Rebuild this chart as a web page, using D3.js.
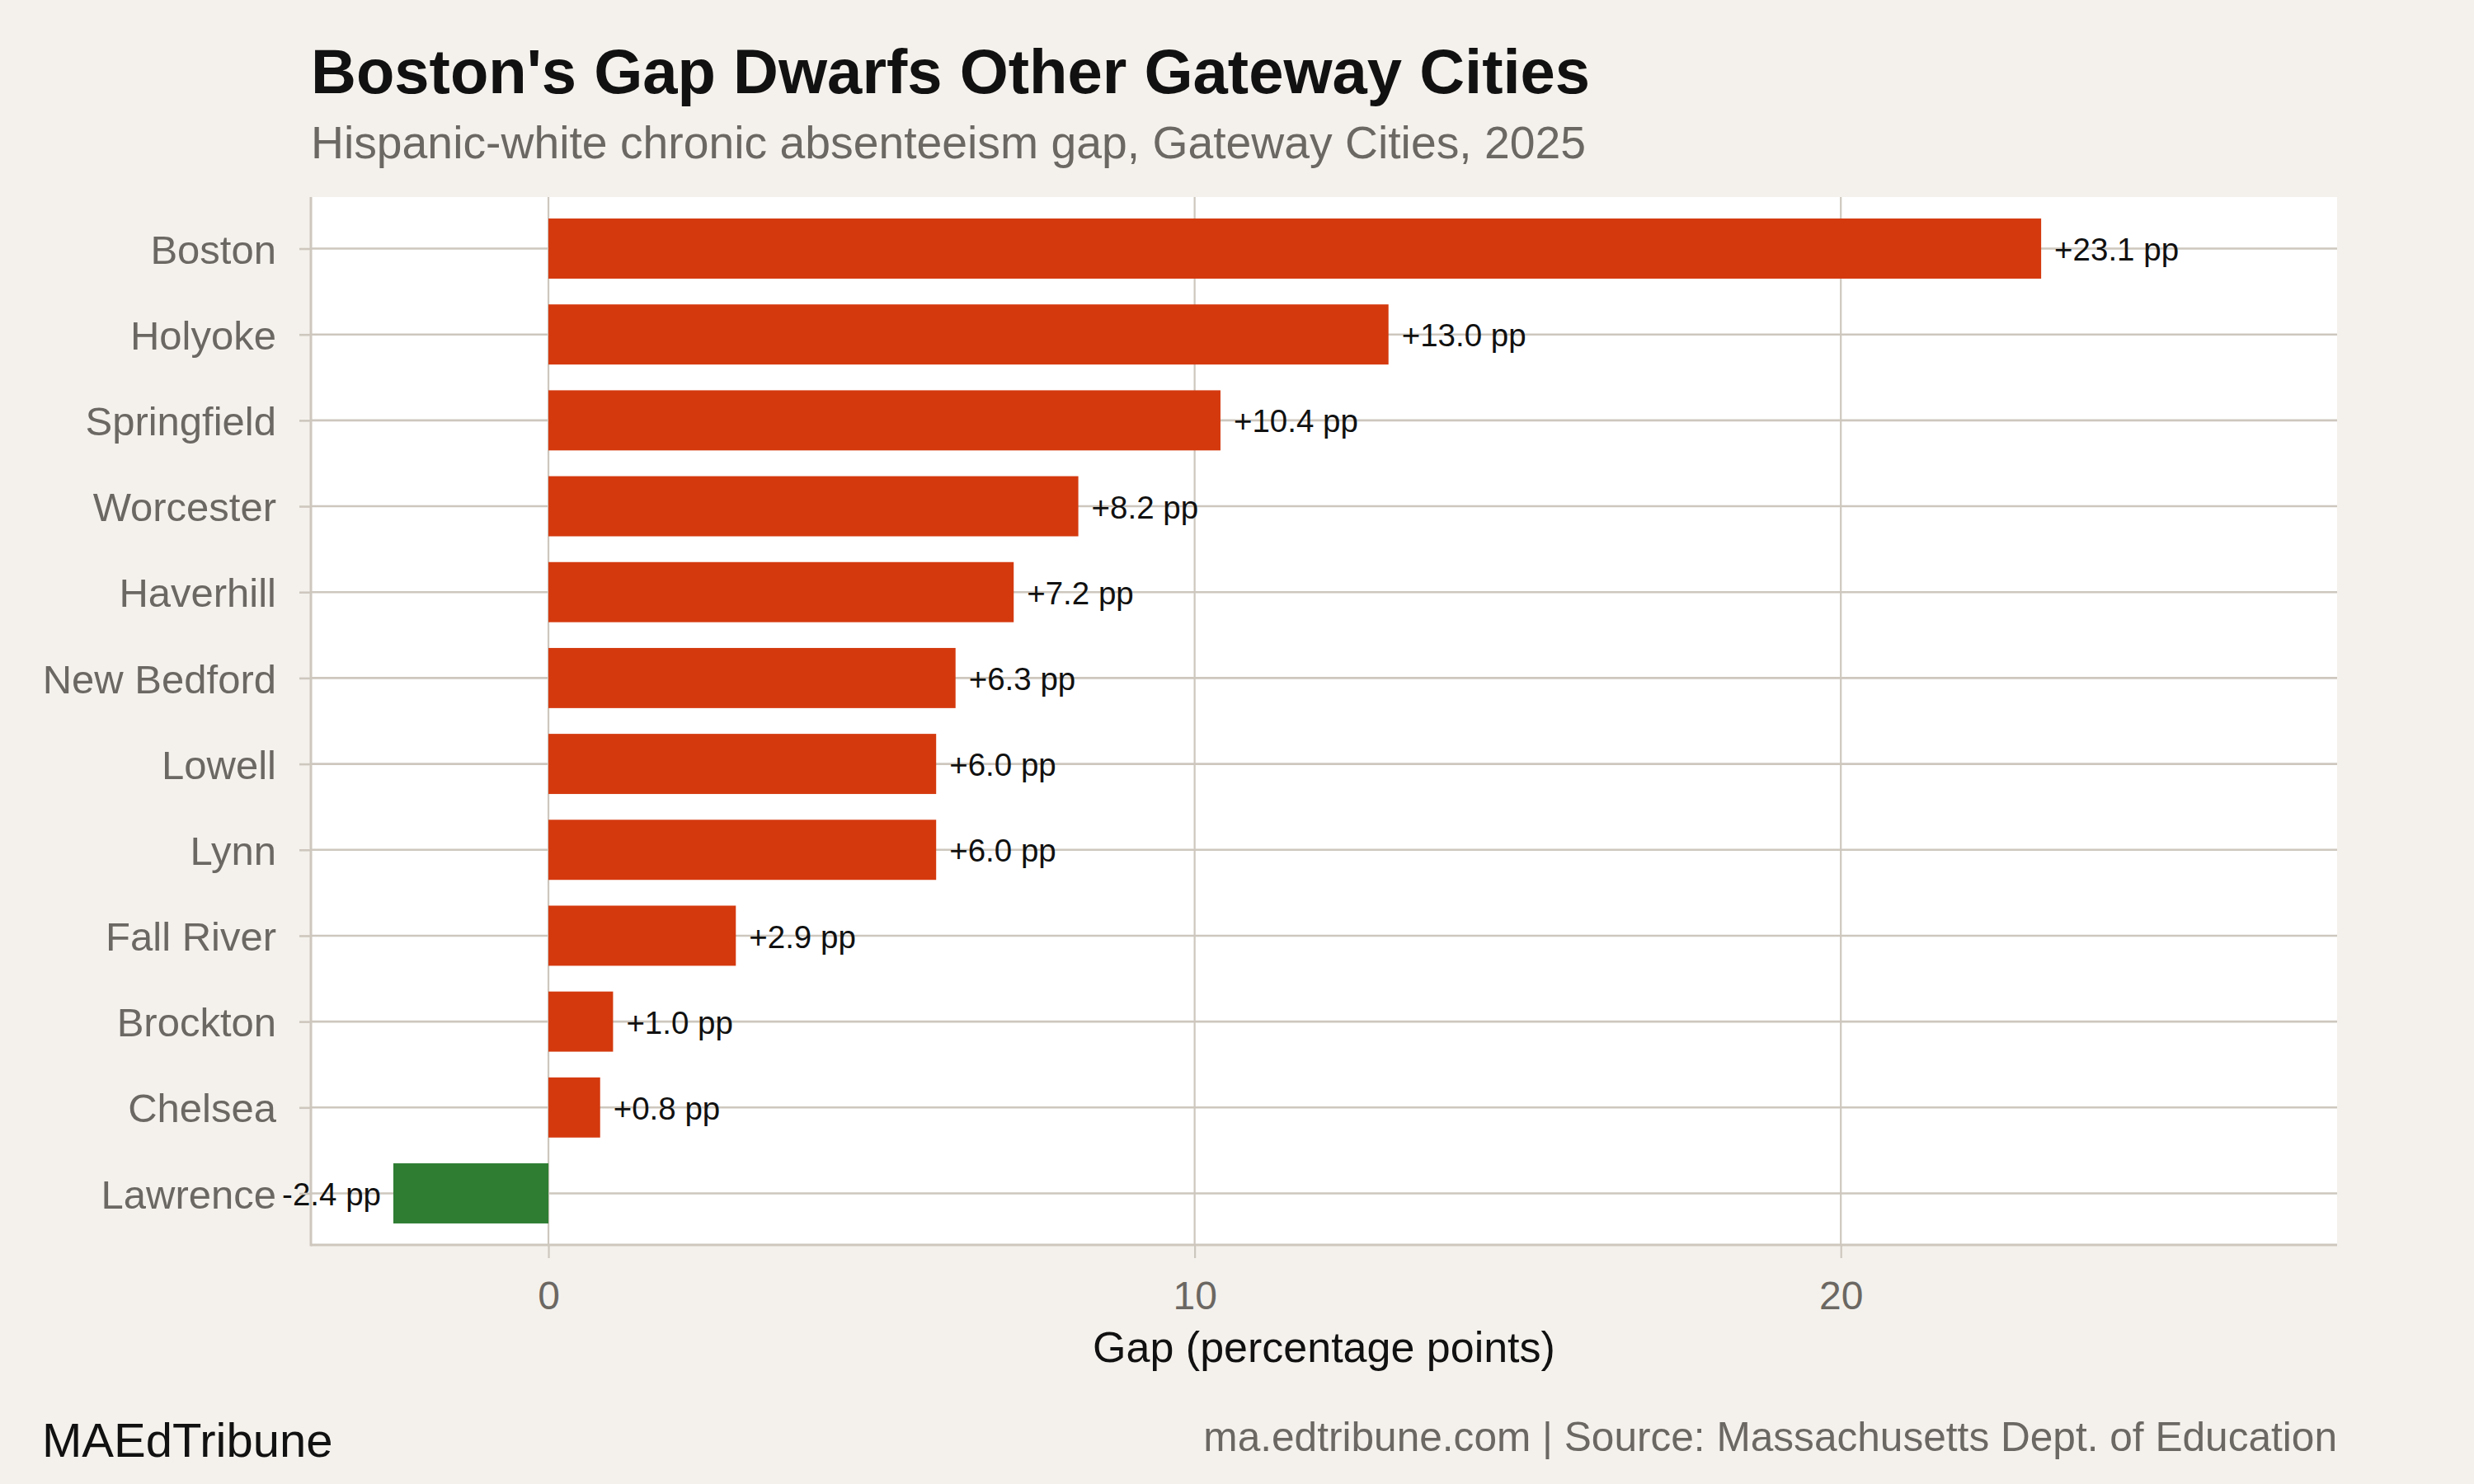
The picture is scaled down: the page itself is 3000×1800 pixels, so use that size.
<!DOCTYPE html>
<html>
<head>
<meta charset="utf-8">
<script src="https://cdn.jsdelivr.net/npm/d3@7"></script>
<style>
  body { margin: 0; background: #f4f1ec; }
  svg { display: block; font-family: "Liberation Sans", Arial, Helvetica, sans-serif; }
</style>
</head>
<body>
<div id="chart"></div>
<script>
// Data
const cities = ["Boston", "Holyoke", "Springfield", "Worcester", "Haverhill", "New Bedford",
	"Lowell", "Lynn", "Fall River", "Brockton", "Chelsea", "Lawrence"];
const gaps = [23.1, 13.0, 10.4, 8.2, 7.2, 6.3, 6.0, 6.0, 2.9, 1.0, 0.8, -2.4];
const xTicks = [0, 10, 20];

const width = 3000;
const height = 1800;
const panel = { left: 377, right: 2834, top: 239, bottom: 1510 };

const grey = "#6b6762";
const gridCol = "#cdc7be";
const posCol = "#d4390e";
const negCol = "#2e7d32";

const rows = cities.map((c, i) => ({ city: c, gap: gaps[i] }));

const svg = d3.select("#chart").append("svg").attr("width", width).attr("height", height);
svg.append("rect").attr("width", width).attr("height", height).attr("fill", "#f4f1ec");

const x = d3.scaleLinear().domain([-3.676, 27.68]).range([panel.left, panel.right]);
const y = d3.scalePoint().domain(cities).range([panel.top, panel.bottom]).padding(0.6);
const barH = y.step() * 0.7;

// panel
svg.append("rect")
	.attr("x", panel.left).attr("y", panel.top)
	.attr("width", panel.right - panel.left).attr("height", panel.bottom - panel.top)
	.attr("fill", "#ffffff");

// gridlines
svg.append("g")
	.selectAll("line")
	.data(xTicks)
	.join("line")
	.attr("x1", d => x(d)).attr("x2", d => x(d))
	.attr("y1", panel.top).attr("y2", panel.bottom)
	.attr("stroke", gridCol).attr("stroke-width", 2.2);

svg.append("g")
	.selectAll("line")
	.data(cities)
	.join("line")
	.attr("x1", panel.left).attr("x2", panel.right)
	.attr("y1", d => y(d)).attr("y2", d => y(d))
	.attr("stroke", gridCol).attr("stroke-width", 2.6);

// bars
svg.append("g")
	.selectAll("rect")
	.data(rows)
	.join("rect")
	.attr("x", d => x(Math.min(0, d.gap)))
	.attr("width", d => Math.abs(x(d.gap) - x(0)))
	.attr("y", d => y(d.city) - barH / 2)
	.attr("height", barH)
	.attr("fill", d => d.gap >= 0 ? posCol : negCol);

// value labels
svg.append("g")
	.selectAll("text")
	.data(rows)
	.join("text")
	.attr("x", d => d.gap >= 0 ? x(d.gap) + 16 : x(d.gap) - 15)
	.attr("y", d => y(d.city))
	.attr("dy", "0.38em")
	.attr("text-anchor", d => d.gap >= 0 ? "start" : "end")
	.attr("font-size", 38.5)
	.attr("fill", "#111")
	.text(d => (d.gap >= 0 ? "+" : "") + d.gap.toFixed(1) + " pp");

// axes
const xAxis = svg.append("g")
	.attr("transform", `translate(0,${panel.bottom})`)
	.call(d3.axisBottom(x).tickValues(xTicks).tickSize(16).tickPadding(28));
xAxis.select(".domain").remove();
xAxis.selectAll("line").attr("stroke", gridCol).attr("stroke-width", 2.2);
xAxis.selectAll("text").attr("font-size", 48).attr("fill", grey).attr("font-family", null);

const yAxis = svg.append("g")
	.attr("transform", `translate(${panel.left},0)`)
	.call(d3.axisLeft(y).tickSize(14).tickPadding(28));
yAxis.select(".domain").remove();
yAxis.selectAll("line").attr("stroke", gridCol).attr("stroke-width", 2.6);
yAxis.selectAll("text").attr("font-size", 49).attr("dy", "0.36em")
	.attr("fill", grey).attr("font-family", null);

// axis lines
svg.append("line")
	.attr("x1", panel.left).attr("x2", panel.left)
	.attr("y1", panel.top).attr("y2", panel.bottom + 1.5)
	.attr("stroke", gridCol).attr("stroke-width", 3);
svg.append("line")
	.attr("x1", panel.left).attr("x2", panel.right)
	.attr("y1", panel.bottom).attr("y2", panel.bottom)
	.attr("stroke", gridCol).attr("stroke-width", 3);

// titles
svg.append("text")
	.attr("x", 377).attr("y", 113)
	.attr("font-size", 76).attr("font-weight", "bold").attr("fill", "#111")
	.text("Boston's Gap Dwarfs Other Gateway Cities");

svg.append("text")
	.attr("x", 377).attr("y", 192)
	.attr("font-size", 55.3).attr("fill", grey)
	.text("Hispanic-white chronic absenteeism gap, Gateway Cities, 2025");

svg.append("text")
	.attr("x", (panel.left + panel.right) / 2).attr("y", 1652)
	.attr("text-anchor", "middle")
	.attr("font-size", 52).attr("fill", "#111")
	.text("Gap (percentage points)");

// footer
svg.append("text")
	.attr("x", 51).attr("y", 1767)
	.attr("font-size", 58).attr("fill", "#111")
	.text("MAEdTribune");

svg.append("text")
	.attr("x", panel.right).attr("y", 1760)
	.attr("text-anchor", "end")
	.attr("font-size", 49.6).attr("fill", grey)
	.text("ma.edtribune.com | Source: Massachusetts Dept. of Education");
</script>
</body>
</html>
